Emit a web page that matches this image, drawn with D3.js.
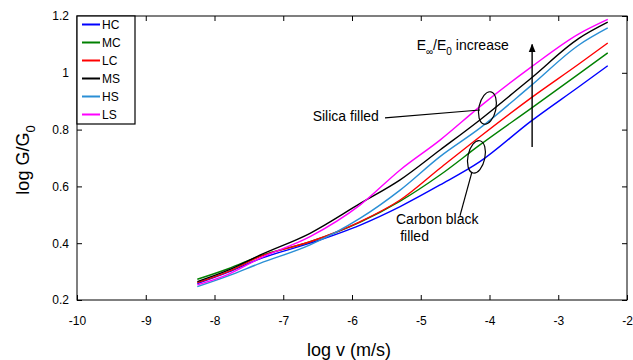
<html>
<head>
<meta charset="utf-8">
<title>log G/G0 vs log v</title>
<style>
    body { margin: 0; background: #fff; }
    text { font-family: "Liberation Sans", Arial, sans-serif; }
    .axis path { display: none; }
    .axis line { stroke: #000; }
    .axis text { font-size: 12px; fill: #000; }
</style>
<script src="https://cdnjs.cloudflare.com/ajax/libs/d3/7.8.5/d3.min.js"></script>
</head>
<body>
<script>
    // log v (m/s) sample points
    var logV = [-8.25, -7.8, -7.34, -6.61, -5.88, -5.30, -4.72, -4.14, -3.4, -2.7, -2.28];

    var names = ["HC", "MC", "LC", "MS", "HS", "LS"];
    var colors = ["#0000ff", "#008000", "#ff0000", "#000000", "#2a8fd5", "#ff00ff"];

    var HC = [0.258, 0.298, 0.345, 0.40, 0.464, 0.529, 0.605, 0.687, 0.829, 0.951, 1.025];
    var MC = [0.273, 0.31, 0.355, 0.405, 0.474, 0.548, 0.64, 0.746, 0.874, 0.996, 1.07];
    var LC = [0.261, 0.30, 0.353, 0.405, 0.476, 0.552, 0.664, 0.775, 0.911, 1.031, 1.105];
    var MS = [0.265, 0.305, 0.358, 0.435, 0.54, 0.623, 0.728, 0.834, 0.98, 1.121, 1.178];
    var HS = [0.247, 0.285, 0.329, 0.394, 0.488, 0.587, 0.705, 0.805, 0.954, 1.098, 1.158];
    var LS = [0.253, 0.29, 0.347, 0.423, 0.535, 0.658, 0.763, 0.881, 1.019, 1.137, 1.188];

    var xTicks = [-10, -9, -8, -7, -6, -5, -4, -3, -2];
    var yTicks = [0.2, 0.4, 0.6, 0.8, 1, 1.2];

    var series = [HC, MC, LC, MS, HS, LS];

    var margin = { top: 16, right: 6, bottom: 60, left: 77 },
        width = 633 - margin.left - margin.right,
        height = 360 - margin.top - margin.bottom;

    var x = d3.scaleLinear().domain([-10, -2]).range([0, width]);
    var y = d3.scaleLinear().domain([0.2, 1.2]).range([height, 0]);

    var svg = d3.select("body").append("svg")
        .attr("width", 633)
        .attr("height", 360)
        .append("g")
        .attr("transform", "translate(" + margin.left + "," + margin.top + ")");

    // ticks point inwards on all four sides
    svg.append("g")
        .attr("class", "x axis")
        .attr("transform", "translate(0," + height + ")")
        .call(d3.axisBottom(x).tickValues(xTicks).tickSizeInner(-5).tickSizeOuter(0).tickPadding(16)
            .tickFormat(function(d) { return String(d); }));
    svg.append("g")
        .attr("class", "x axis")
        .call(d3.axisTop(x).tickValues(xTicks).tickSizeInner(-5).tickSizeOuter(0).tickFormat(""));
    svg.append("g")
        .attr("class", "y axis")
        .call(d3.axisLeft(y).tickValues(yTicks).tickSizeInner(-5).tickSizeOuter(0).tickPadding(8)
            .tickFormat(function(d) { return String(d); }));
    svg.append("g")
        .attr("class", "y axis")
        .attr("transform", "translate(" + width + ",0)")
        .call(d3.axisRight(y).tickValues(yTicks).tickSizeInner(-5).tickSizeOuter(0).tickFormat(""));

    svg.append("rect")
        .attr("width", width)
        .attr("height", height)
        .attr("fill", "none")
        .attr("stroke", "#000");

    var line = d3.line()
        .x(function(d) { return x(d[0]); })
        .y(function(d) { return y(d[1]); })
        .curve(d3.curveMonotoneX);

    svg.selectAll(".series")
        .data(series)
        .enter()
        .append("path")
        .attr("class", "series")
        .attr("fill", "none")
        .attr("stroke", function(d, i) { return colors[i]; })
        .attr("stroke-width", 1.4)
        .attr("d", function(d) {
            return line(d.map(function(v, j) { return [logV[j], v]; }));
        });

    // annotations, placed in data units
    function ann(vx, gy) { return [x(vx), y(gy)]; }

    var sc = ann(-4.03, 0.876);
    svg.append("ellipse")
        .attr("cx", sc[0]).attr("cy", sc[1]).attr("rx", 8.5).attr("ry", 16.5)
        .attr("transform", "rotate(12," + sc[0] + "," + sc[1] + ")")
        .attr("fill", "none").attr("stroke", "#000").attr("stroke-width", 1.2);
    var s1 = ann(-5.52, 0.841), s2 = ann(-4.14, 0.869);
    svg.append("line")
        .attr("x1", s1[0]).attr("y1", s1[1]).attr("x2", s2[0]).attr("y2", s2[1])
        .attr("stroke", "#000").attr("stroke-width", 1.2);
    var st = ann(-5.61, 0.83);
    svg.append("text")
        .attr("x", st[0]).attr("y", st[1])
        .attr("text-anchor", "end")
        .style("font-size", "14px")
        .text("Silica filled");

    var cc = ann(-4.19, 0.704);
    svg.append("ellipse")
        .attr("cx", cc[0]).attr("cy", cc[1]).attr("rx", 8.5).attr("ry", 16.5)
        .attr("transform", "rotate(12," + cc[0] + "," + cc[1] + ")")
        .attr("fill", "none").attr("stroke", "#000").attr("stroke-width", 1.2);
    var c1 = ann(-4.255, 0.651), c2 = ann(-4.43, 0.496);
    svg.append("line")
        .attr("x1", c1[0]).attr("y1", c1[1]).attr("x2", c2[0]).attr("y2", c2[1])
        .attr("stroke", "#000").attr("stroke-width", 1.2);
    var ct = ann(-5.36, 0.468);
    svg.append("text")
        .attr("x", ct[0]).attr("y", ct[1])
        .style("font-size", "14px")
        .text("Carbon black");
    var ct2 = ann(-5.30, 0.408);
    svg.append("text")
        .attr("x", ct2[0]).attr("y", ct2[1])
        .style("font-size", "14px")
        .text("filled");

    // arrow
    svg.append("defs").append("marker")
        .attr("id", "head")
        .attr("viewBox", "0 0 10 10")
        .attr("refX", 9).attr("refY", 5)
        .attr("markerWidth", 6).attr("markerHeight", 8)
        .attr("orient", "auto")
        .append("path")
        .attr("d", "M0,1 L10,5 L0,9 Z")
        .attr("fill", "#000");
    var a1 = ann(-3.38, 0.739), a2 = ann(-3.38, 1.1);
    svg.append("line")
        .attr("x1", a1[0]).attr("y1", a1[1]).attr("x2", a2[0]).attr("y2", a2[1])
        .attr("stroke", "#000").attr("stroke-width", 1.4)
        .attr("marker-end", "url(#head)");
    var et = ann(-5.06, 1.08);
    var eText = svg.append("text")
        .attr("x", et[0]).attr("y", et[1])
        .style("font-size", "14px");
    eText.append("tspan").text("E");
    eText.append("tspan").attr("dy", 5).style("font-size", "10px").text("\u221e");
    eText.append("tspan").attr("dy", -5).text("/E");
    eText.append("tspan").attr("dy", 5).style("font-size", "10px").text("0");
    eText.append("tspan").attr("dy", -5).text(" increase");

    // legend
    var legend = svg.append("g").attr("class", "legend");
    legend.append("rect")
        .attr("x", 0).attr("y", 0)
        .attr("width", 58).attr("height", 108)
        .attr("fill", "#fff").attr("stroke", "#000").attr("stroke-width", 1.2);
    var items = legend.selectAll(".item")
        .data(names)
        .enter()
        .append("g")
        .attr("class", "item")
        .attr("transform", function(d, i) { return "translate(0," + (8.5 + i * 18) + ")"; });
    items.append("line")
        .attr("x1", 5).attr("x2", 23)
        .attr("stroke", function(d, i) { return colors[i]; })
        .attr("stroke-width", 2);
    items.append("text")
        .attr("x", 25).attr("dy", "0.36em")
        .style("font-size", "12px")
        .text(function(d) { return d; });

    // axis titles
    svg.append("text")
        .attr("x", width / 2 - 3)
        .attr("y", height + 56)
        .attr("text-anchor", "middle")
        .style("font-size", "18px")
        .text("log v (m/s)");
    var yt = svg.append("text")
        .attr("transform", "translate(-48," + (height / 2 + 2) + ") rotate(-90)")
        .attr("text-anchor", "middle")
        .style("font-size", "18px");
    yt.append("tspan").text("log G/G");
    yt.append("tspan").attr("dy", 6).style("font-size", "13px").text("0");
</script>
</body>
</html>
